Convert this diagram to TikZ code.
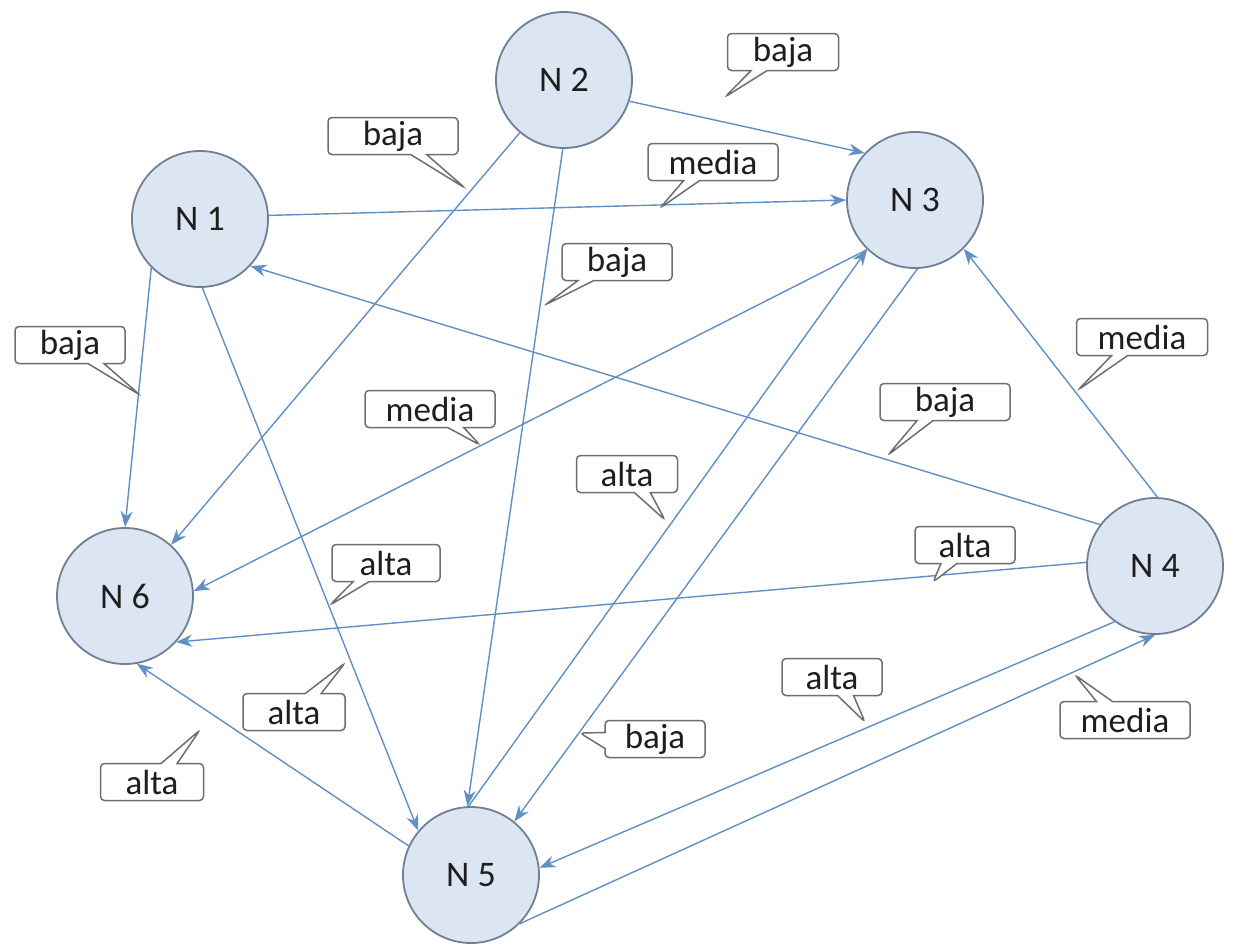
\documentclass[tikz,border=0pt]{standalone}
\usepackage{fontspec}
\setmainfont{Carlito}
\usetikzlibrary{shapes.callouts,arrows.meta}
\definecolor{edgecol}{RGB}{95,143,195}
\definecolor{nodefill}{RGB}{220,230,242}
\definecolor{nodeborder}{RGB}{110,128,150}
\definecolor{boxborder}{RGB}{110,110,110}
\definecolor{txt}{RGB}{30,30,30}
\begin{document}
\begin{tikzpicture}[x=1pt,y=-1pt,
  netnode/.style={circle,draw=nodeborder,fill=nodefill,line width=1.8pt,minimum size=136pt,inner sep=0pt,font=\fontsize{36}{40}\selectfont,text=txt},
  conn/.style={draw=edgecol,line width=1.4pt,-{Stealth[length=16pt,width=12pt]}},
  lab/.style={rectangle callout,draw=boxborder,fill=white,line width=1.5pt,rounded corners=4pt,minimum height=37pt,inner sep=0pt,font=\fontsize{35}{38}\selectfont,text=txt,callout pointer width=16pt}]
\useasboundingbox (0,0) rectangle (1234,946);
% nodes
\node[netnode] (N1) at (200,219) {N 1};
\node[netnode] (N2) at (564,80) {N 2};
\node[netnode] (N3) at (915,200) {N 3};
\node[netnode] (N4) at (1155,566) {N 4};
\node[netnode] (N5) at (471,875) {N 5};
\node[netnode] (N6) at (125,596) {N 6};
% edges
\draw[conn] (N2.-18) -- (N3.137);
\draw[conn] (N2.-130) -- (N6.48);
\draw[conn] (N1.3) -- (N3.180);
\draw[conn] (N2.-91) -- (N5.93);
\draw[conn] (N1.-135) -- (N6.90);
\draw[conn] (N4.143) -- (N1.-43);
\draw[conn] (N3.-134) -- (N6.4);
\draw[conn] (N4.88) -- (N3.-45);
\draw[conn] (N4.177) -- (N6.-42);
\draw[conn] (N1.-88) -- (N5.140);
\draw[conn] (N5.155) -- (N6.-80);
\draw[conn] (N4.-126) -- (N5.6);
\draw[conn] (N5.-45) -- (N4.-90);
\draw[conn] (N3.-88) -- (N5.51);
\draw[conn] (N5.92) -- (N3.-134);
% labels
\node[lab,minimum width=111pt,callout absolute pointer={(725,97)}] (l1) at (783,52) {baja};
\node[lab,minimum width=130pt,callout absolute pointer={(465,188)}] (l2) at (393,136) {baja};
\node[lab,minimum width=130pt,callout absolute pointer={(660,208)}] (l3) at (713,162) {media};
\node[lab,minimum width=110pt,callout absolute pointer={(545,305)}] (l4) at (617,262) {baja};
\node[lab,minimum width=110pt,callout absolute pointer={(140,395)}] (l5) at (70,345) {baja};
\node[lab,minimum width=131pt,callout absolute pointer={(1078,390)}] (l6) at (1142,337) {media};
\node[lab,minimum width=130pt,callout absolute pointer={(888,455)}] (l7) at (945,402) {baja};
\node[lab,minimum width=130pt,callout absolute pointer={(480,445)}] (l8) at (430,409) {media};
\node[lab,minimum width=101pt,callout absolute pointer={(665,520)}] (l9) at (627,474) {alta};
\node[lab,minimum width=100pt,callout absolute pointer={(933,582)}] (l10) at (965,545) {alta};
\node[lab,minimum width=108pt,callout absolute pointer={(330,605)}] (l11) at (386,563) {alta};
\node[lab,minimum width=102pt,callout absolute pointer={(345,663)}] (l12) at (294,712) {alta};
\node[lab,minimum width=100pt,callout absolute pointer={(865,722)}] (l13) at (832,677) {alta};
\node[lab,minimum width=130pt,callout absolute pointer={(1075,675)}] (l14) at (1125,720) {media};
\node[lab,minimum width=100pt,callout absolute pointer={(580,733)}] (l15) at (655,739) {baja};
\node[lab,minimum width=103pt,callout absolute pointer={(200,730)}] (l16) at (152,782) {alta};
\end{tikzpicture}
\end{document}
